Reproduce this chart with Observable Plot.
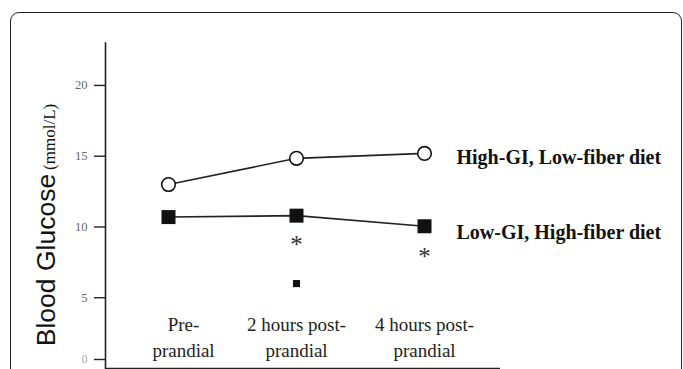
<!DOCTYPE html>
<html>
<head>
<meta charset="utf-8">
<script src="https://cdn.jsdelivr.net/npm/d3@7"></script>
<script src="https://cdn.jsdelivr.net/npm/@observablehq/plot@0.6"></script>
<style>
  html, body { margin: 0; padding: 0; background: #fff; overflow: hidden; }
  #wrap { position: relative; width: 683px; height: 369px; overflow: hidden; }
  #border { position: absolute; left: 10px; top: 12px; width: 672px; height: 420px;
            border: 1.6px solid #222; border-radius: 9px; box-sizing: border-box; }
  #chart { position: absolute; left: 0; top: 0; }
  #ylab { position: absolute; left: 46px; top: 225px; transform: translate(-50%, -50%) rotate(-90deg);
          white-space: nowrap; color: #111; }
  #ylab .a { font-family: "Liberation Sans", Arial, sans-serif; font-size: 26.5px; }
  #ylab .b { font-family: "Liberation Serif", "Times New Roman", serif; font-size: 17px; }
</style>
</head>
<body>
<div id="wrap">
  <div id="border"></div>
  <div id="chart"></div>
  <div id="ylab"><span class="a">Blood Glucose</span> <span class="b">(mmol/L)</span></div>
</div>
<script>
const categories = ["Pre-prandial", "2 hours post-prandial", "4 hours post-prandial"];
const categoryLabels = ["Pre-\nprandial", "2 hours post-\nprandial", "4 hours post-\nprandial"];
const highGI = [13.0, 14.85, 15.2];
const lowGI = [10.7, 10.8, 10.05];
const seriesNames = ["High-GI, Low-fiber diet", "Low-GI, High-fiber diet"];
const asteriskCats = ["2 hours post-prandial", "4 hours post-prandial"];
const asteriskY = [9.05, 8.2];
const strayCats = ["2 hours post-prandial"];
const strayY = [6.0];
const yTicks = [5, 10, 15, 20];
const yTickZero = [0];

const high = categories.map((c, i) => ({cat: c, v: highGI[i]}));
const low = categories.map((c, i) => ({cat: c, v: lowGI[i]}));
const labels = categories.map((c, i) => ({cat: c, t: categoryLabels[i]}));
const stars = asteriskCats.map((c, i) => ({cat: c, v: asteriskY[i]}));
const stray = strayCats.map((c, i) => ({cat: c, v: strayY[i]}));
const serif = "'Liberation Serif', 'Times New Roman', serif";

const plot = Plot.plot({
  width: 683,
  height: 369,
  marginLeft: 105,
  marginRight: 183,
  marginTop: 42.5,
  marginBottom: 1,
  style: {fontFamily: serif, background: "transparent", color: "#111"},
  x: {type: "point", domain: categories, range: [168, 424], padding: 0, axis: null},
  y: {domain: [0, 23], axis: null},
  marks: [
    Plot.frame({anchor: "left", stroke: "#222", strokeWidth: 1.6}),
    Plot.ruleY([0], {stroke: "#222", strokeWidth: 1.6}),
    Plot.axisY({ticks: yTicks, label: null, tickSize: 11, tickPadding: 7, fontSize: 12.5, stroke: "#222",
                strokeWidth: 1.4, color: "#666", fontFamily: serif}),
    Plot.axisY({ticks: yTickZero, label: null, tickSize: 11, tickPadding: 7, fontSize: 12, stroke: "#222",
                strokeWidth: 1.4, color: "#aaa", fontFamily: serif, dy: -9}),
    Plot.line(high, {x: "cat", y: "v", stroke: "#222", strokeWidth: 1.6}),
    Plot.line(low, {x: "cat", y: "v", stroke: "#222", strokeWidth: 1.6}),
    Plot.dot(high, {x: "cat", y: "v", symbol: "circle", r: 6.8, fill: "white", stroke: "#111", strokeWidth: 1.6}),
    Plot.dot(low, {x: "cat", y: "v", symbol: "square", r: 7.9, fill: "#111", stroke: "none"}),
    Plot.dot(stray, {x: "cat", y: "v", symbol: "square", r: 4, fill: "#111", stroke: "none"}),
    Plot.text(stars, {x: "cat", y: "v", text: () => "*", fontSize: 25, dy: 5, fill: "#333", fontFamily: serif}),
    Plot.text(labels.slice(0, 1), {x: "cat", text: "t", frameAnchor: "bottom", dy: -33, dx: 15,
      lineAnchor: "middle", lineHeight: 1.37, fontSize: 19, fill: "#222", fontFamily: serif}),
    Plot.text(labels.slice(1), {x: "cat", text: "t", frameAnchor: "bottom", dy: -33,
      lineAnchor: "middle", lineHeight: 1.37, fontSize: 19, fill: "#222", fontFamily: serif}),
    Plot.text([high[2]], {x: "cat", y: "v", text: () => seriesNames[0], textAnchor: "start", dx: 32, dy: 4,
      fontSize: 20, fontWeight: "bold", fill: "#111", fontFamily: serif}),
    Plot.text([low[2]], {x: "cat", y: "v", text: () => seriesNames[1], textAnchor: "start", dx: 32, dy: 6,
      fontSize: 20, fontWeight: "bold", fill: "#111", fontFamily: serif})
  ]
});
document.getElementById("chart").appendChild(plot);
</script>
</body>
</html>
